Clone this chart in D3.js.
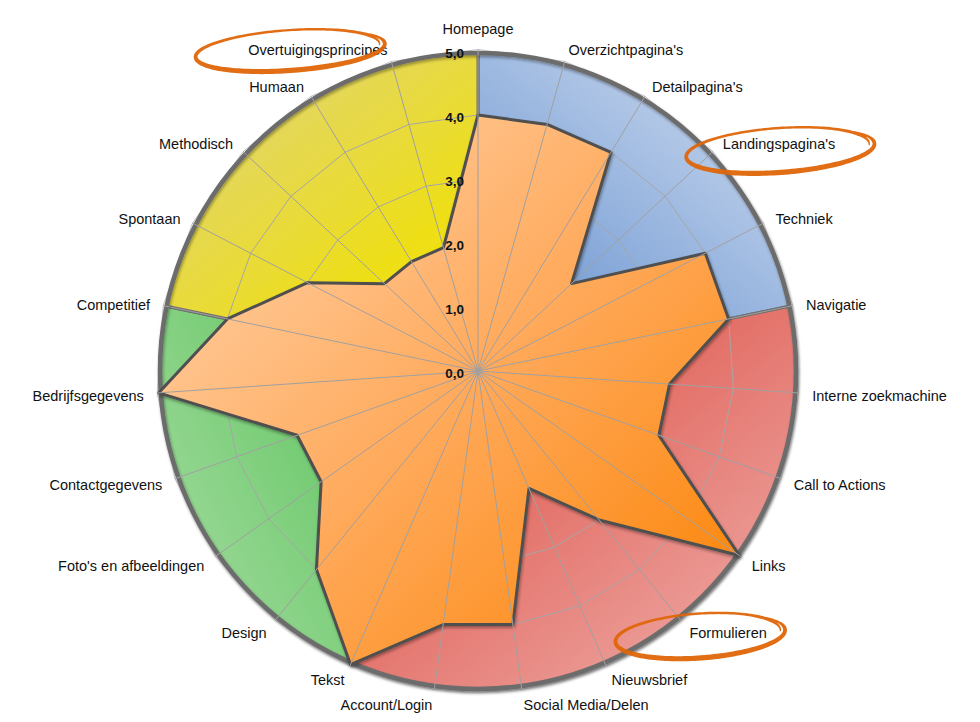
<!DOCTYPE html>
<html><head><meta charset="utf-8">
<script src="https://cdn.jsdelivr.net/npm/d3@7"></script>
<style>body{margin:0;background:#fff;} svg{display:block;}</style>
</head><body>
<svg id="chart" width="980" height="722"></svg>
<script>
// ---- data ----
const categories = ["Homepage","Overzichtpagina's","Detailpagina's","Landingspagina's","Techniek","Navigatie","Interne zoekmachine","Call to Actions","Links","Formulieren","Nieuwsbrief","Social Media/Delen","Account/Login","Tekst","Design","Foto's en afbeeldingen","Contactgegevens","Bedrijfsgegevens","Competitief","Spontaan","Methodisch","Humaan","Overtuigingsprincipes"];
const scores = [4,4,4,2,4,4,3,3,5,3,2,4,4,5,4,3,3,5,4,3,2,2,2];
const tickValues = [0,1,2,3,4,5];
const tickLabels = ["0,0","1,0","2,0","3,0","4,0","5,0"];
const sectorFrom = ["Homepage","Navigatie","Tekst","Competitief"];
const sectorTo   = ["Navigatie","Tekst","Competitief","Homepage"];
const highlighted = ["Overtuigingsprincipes","Landingspagina's","Formulieren"];

// ---- styles ----
const sectorInner = ["#7099d3","#e1675e","#5cc35c","#f1e100"];
const sectorOuter = ["#b3c8e7","#eb9893","#93d690","#e4d75a"];
const annot = [ {dx:-29, dy:0, ex:27, ry:20}, {dx:0, dy:6, ex:40, ry:22}, {dx:-29, dy:3, ex:48, ry:22} ];

const W = 980, H = 722, cx = 478, cy = 371, R = 320, n = categories.length;
const svg = d3.select("#chart");
const g = svg.append("g").attr("transform", `translate(${cx},${cy})`);
const r = d3.scaleLinear().domain([0, 5]).range([0, R]);
const a = d3.scaleLinear().domain([0, n]).range([0, 2 * Math.PI]);
const radial = d3.lineRadial().angle(d => a(d.i)).radius(d => r(d.v)).curve(d3.curveLinearClosed);
const ring = v => d3.lineRadial().angle(i => a(i)).radius(v).curve(d3.curveLinearClosed)(d3.range(n));
const xy = (i, v) => [r(v) * Math.sin(a(i)), -r(v) * Math.cos(a(i))];
const Rc = r(5) - 2;

const defs = svg.append("defs");
const sh = defs.append("filter").attr("id", "shadow").attr("x", "-10%").attr("y", "-10%").attr("width", "120%").attr("height", "120%");
sh.append("feDropShadow").attr("dx", 1).attr("dy", 2).attr("stdDeviation", 1.6).attr("flood-color", "#000").attr("flood-opacity", 0.35);

// sectors
const sectors = sectorFrom.map((f, k) => {
  const s = categories.indexOf(f);
  let e = categories.indexOf(sectorTo[k]);
  if (e <= s) e += n;
  return {k, s, e};
});
sectors.forEach(d => {
  const mid = (d.s + d.e) / 2;
  const [x1, y1] = xy(mid, 1.2), [x2, y2] = xy(mid, 5);
  const lg = defs.append("linearGradient").attr("id", "sg" + d.k).attr("gradientUnits", "userSpaceOnUse")
    .attr("x1", x1).attr("y1", y1).attr("x2", x2).attr("y2", y2);
  lg.append("stop").attr("offset", 0).attr("stop-color", sectorInner[d.k]);
  lg.append("stop").attr("offset", 1).attr("stop-color", sectorOuter[d.k]);
});
const og = defs.append("linearGradient").attr("id", "og").attr("gradientUnits", "userSpaceOnUse")
  .attr("x1", -0.7 * R).attr("y1", -0.7 * R).attr("x2", 0.7 * R).attr("y2", 0.7 * R);
og.append("stop").attr("offset", 0).attr("stop-color", "#ffcea1");
og.append("stop").attr("offset", 0.5).attr("stop-color", "#ffaa5c");
og.append("stop").attr("offset", 1).attr("stop-color", "#fc8912");

const arc = d3.arc().innerRadius(0).outerRadius(Rc);
g.append("g").attr("filter", "url(#shadow)").selectAll("path").data(sectors).join("path")
  .attr("d", d => arc({startAngle: a(d.s), endAngle: a(d.e)}))
  .attr("fill", d => `url(#sg${d.k})`)
  .attr("stroke", "#6e6e6e").attr("stroke-width", 3).attr("stroke-linejoin", "round");

// ring gridlines
g.append("g").selectAll("path").data(tickValues.filter(v => v > 0 && v < 5)).join("path")
  .attr("d", v => ring(r(v)))
  .attr("fill", "none").attr("stroke", "#a6a6a6").attr("stroke-width", 1);

// faint outer polygon + thick circle border
g.append("path").attr("d", ring(r(5) + 1.5))
  .attr("fill", "none").attr("stroke", "#c4c4c4").attr("stroke-width", 1);
g.append("circle").attr("r", Rc)
  .attr("fill", "none").attr("stroke", "#6c6c6c").attr("stroke-width", 4.5)
  .attr("filter", "url(#shadow)");

// score polygon
g.append("path")
  .attr("d", radial(scores.map((v, i) => ({i, v}))))
  .attr("fill", "url(#og)").attr("stroke", "#4f4f4f").attr("stroke-width", 3).attr("stroke-linejoin", "round")
  .attr("filter", "url(#shadow)");

// spokes
g.append("g").selectAll("line").data(d3.range(n)).join("line")
  .attr("x1", 0).attr("y1", 0)
  .attr("x2", i => (r(5) + 1.5) * Math.sin(a(i))).attr("y2", i => -(r(5) + 1.5) * Math.cos(a(i)))
  .attr("stroke", "#a0a0a0").attr("stroke-width", 1);

// radial tick labels
g.append("g").selectAll("text").data(tickValues).join("text")
  .attr("x", -14).attr("y", v => -r(v) + 2.5)
  .attr("text-anchor", "end").attr("dominant-baseline", "central")
  .style("font", "bold 13.5px 'Liberation Sans', Arial, sans-serif").attr("fill", "#111")
  .text((v, k) => tickLabels[k]);

// category labels
const labels = g.append("g").selectAll("text").data(categories).join("text")
  .each(function(c, i) {
    const s = Math.sin(a(i)), co = Math.cos(a(i));
    const x = (R + 15) * s, y = -(R + 15) * co;
    const t = d3.select(this);
    t.attr("x", x);
    if (Math.abs(s) < 0.05) {
      t.attr("text-anchor", "middle");
      if (co > 0) t.attr("y", y - 2); else t.attr("y", y + 2).attr("dominant-baseline", "hanging");
    } else {
      t.attr("text-anchor", s > 0 ? "start" : "end").attr("y", y + 2).attr("dominant-baseline", "central");
    }
  })
  .style("font", "14.5px 'Liberation Sans', Arial, sans-serif").attr("fill", "#111")
  .text(c => c);

// hand-drawn annotation loops
function loopPath(ex, ey, rx, ry, rot) {
  const N = 180, t0 = -0.7, sweep = 2 * Math.PI + 0.75;
  const L = [], Rt = [];
  const cr = Math.cos(rot), sr = Math.sin(rot);
  for (let k = 0; k <= N; k++) {
    const t = t0 + sweep * k / N, grow = 1 - 0.06 * k / N;
    const px = rx * grow * Math.cos(t), py = ry * grow * Math.sin(t) * (1 + 0.08 * k / N);
    let nx = ry * Math.cos(t), ny = rx * Math.sin(t);
    const len = Math.hypot(nx, ny); nx /= len; ny /= len;
    const taper = Math.min(1, k / 14, (N - k) / 14);
    const w = (2.4 + 2.8 * (1 + Math.sin(t)) / 2) * (0.3 + 0.7 * taper);
    const p1 = [px + nx * w / 2, py + ny * w / 2], p2 = [px - nx * w / 2, py - ny * w / 2];
    const rotp = p => [ex + p[0] * cr - p[1] * sr, ey + p[0] * sr + p[1] * cr];
    L.push(rotp(p1)); Rt.push(rotp(p2));
  }
  return d3.line()(L.concat(Rt.reverse())) + "Z";
}
highlighted.forEach((h, k) => {
  const node = labels.filter(c => c === h).node();
  const b = node.getBBox();
  const o = annot[k];
  const ex = b.x + b.width / 2 + o.dx, ey = b.y + b.height / 2 + o.dy;
  g.append("path").attr("d", loopPath(ex, ey, b.width / 2 + o.ex, o.ry, -4 * Math.PI / 180))
    .attr("fill", "#df6508").attr("opacity", 0.95);
});
</script>
</body></html>
